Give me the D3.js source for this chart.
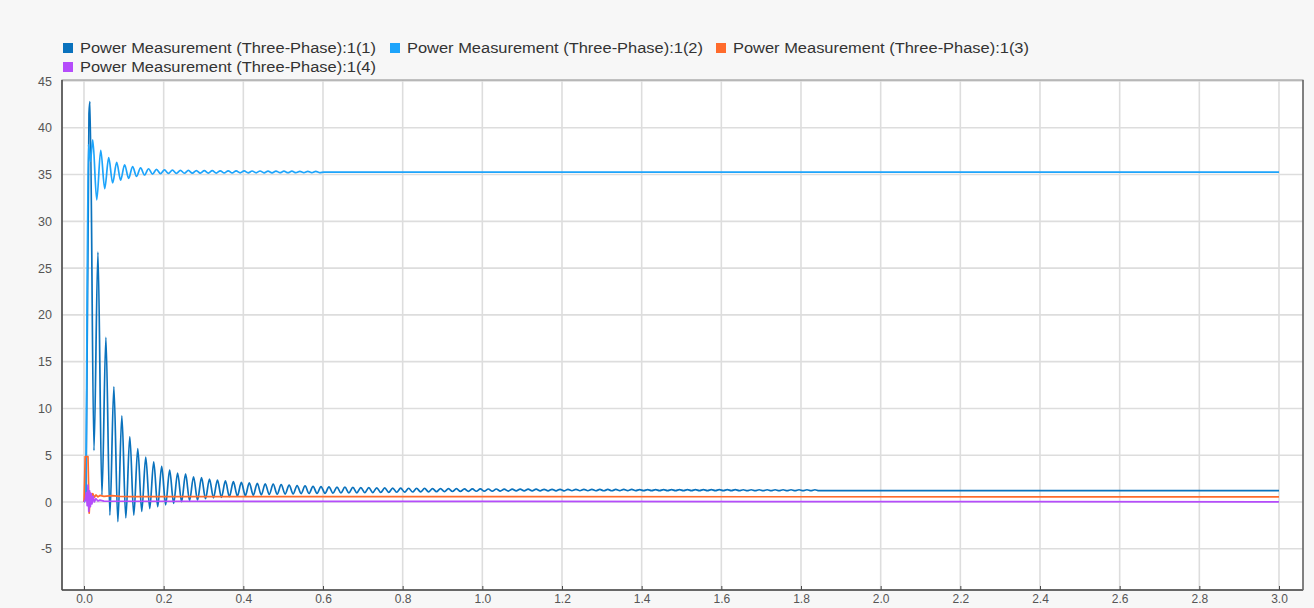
<!DOCTYPE html>
<html>
<head>
<meta charset="utf-8">
<script src="https://cdn.jsdelivr.net/npm/d3@7/dist/d3.min.js"></script>
<style>
  html, body { margin: 0; padding: 0; background: #f7f7f7; }
  svg { display: block; }
  text { font-family: "Liberation Sans", Arial, sans-serif; }
</style>
</head>
<body>
<svg id="chart" width="1314" height="608"></svg>
<script>
// ---- Data: Power Measurement (Three-Phase) outputs, time in seconds ----
const seriesNames = [
  "Power Measurement (Three-Phase):1(1)",
  "Power Measurement (Three-Phase):1(2)",
  "Power Measurement (Three-Phase):1(3)",
  "Power Measurement (Three-Phase):1(4)"
];
const seriesColors = ["#0a72bd", "#1da4fb", "#ff6b2c", "#b54cfb"];

const xTicks = [0, 0.2, 0.4, 0.6, 0.8, 1.0, 1.2, 1.4, 1.6, 1.8, 2.0, 2.2, 2.4, 2.6, 2.8, 3.0];
const yTicks = [-5, 0, 5, 10, 15, 20, 25, 30, 35, 40, 45];

const ripplePeriod = 0.02;   // 50 Hz ripple, one peak and one trough per period
const endTime = 3.0;

// Series 1(1): start-up samples, then ripple extrema, then settled value
const s1StartT = [0, 0.005, 0.0125];
const s1StartV = [0, 0.8, 41.5];
const s1PeakT0 = 0.015, s1TroughT0 = 0.025;
const s1Peaks = [
  42.8, 26.7, 17.6, 12.3, 9.2, 7.0, 5.7, 4.8, 4.3, 3.8,
  3.4, 3.1, 3.0, 2.7, 2.6, 2.45, 2.35, 2.25, 2.17, 2.1,
  2.05, 2.0, 1.95, 1.9, 1.85, 1.8, 1.76, 1.72, 1.68, 1.65,
  1.62, 1.6, 1.58, 1.56, 1.54, 1.53, 1.52, 1.5, 1.49, 1.48,
  1.47, 1.46, 1.45, 1.44, 1.43, 1.42, 1.42, 1.41, 1.4, 1.4,
  1.39, 1.39, 1.38, 1.38, 1.37, 1.37, 1.37, 1.36, 1.36, 1.36,
  1.35, 1.35, 1.35, 1.35, 1.34, 1.34, 1.34, 1.34, 1.34, 1.33,
  1.33, 1.33, 1.33, 1.33, 1.33, 1.32, 1.32, 1.32, 1.32, 1.32,
  1.32, 1.32, 1.31, 1.31, 1.31, 1.31, 1.31, 1.31, 1.31, 1.31, 1.31, 1.31
];
const s1Troughs = [
  5.5, 0.75, -1.4, -2.1, -1.7, -1.4, -1.0, -0.7, -0.5, -0.3,
  -0.15, 0.03, 0.15, 0.2, 0.35, 0.45, 0.5, 0.57, 0.63, 0.68,
  0.72, 0.76, 0.8, 0.83, 0.85, 0.87, 0.89, 0.91, 0.92, 0.93,
  0.95, 0.96, 0.97, 0.98, 0.99, 1.0, 1.02, 1.03, 1.04, 1.06,
  1.07, 1.08, 1.09, 1.1, 1.11, 1.12, 1.13, 1.14, 1.15, 1.16,
  1.16, 1.17, 1.17, 1.18, 1.18, 1.18, 1.19, 1.19, 1.19, 1.19,
  1.2, 1.2, 1.2, 1.2, 1.2, 1.2, 1.21, 1.21, 1.21, 1.21,
  1.21, 1.21, 1.21, 1.21, 1.21, 1.21, 1.21, 1.21, 1.21, 1.21,
  1.21, 1.21, 1.21, 1.21, 1.21, 1.21, 1.21, 1.21, 1.21, 1.21, 1.21, 1.21
];
const s1Final = 1.21;

// Series 1(2)
const s2StartT = [0, 0.004, 0.011, 0.016];
const s2StartV = [0, 0.3, 38.2, 36.4];
const s2PeakT0 = 0.022, s2TroughT0 = 0.032;
const s2Peaks = [
  38.7, 37.6, 36.8, 36.3, 36.05, 35.85, 35.72, 35.62, 35.55, 35.5,
  35.47, 35.45, 35.44, 35.43, 35.42, 35.41, 35.4, 35.4, 35.39, 35.39,
  35.38, 35.38, 35.37, 35.37, 35.36, 35.36, 35.35, 35.35, 35.34
];
const s2Troughs = [
  32.3, 33.5, 34.1, 34.4, 34.6, 34.8, 34.95, 35.05, 35.1, 35.12,
  35.13, 35.14, 35.15, 35.15, 35.16, 35.16, 35.17, 35.17, 35.18, 35.18,
  35.19, 35.19, 35.19, 35.2, 35.2, 35.2, 35.2, 35.2, 35.2
];
const s2Final = 35.25;

// Series 1(3)
const s3T = [0, 0.003, 0.010, 0.013, 0.016, 0.019, 0.022, 0.026, 0.030, 0.035, 0.040, 0.050, 0.070, 0.090, 0.120, endTime];
const s3V = [0, 4.85, 4.85, -1.2, 0.95, 0.3, 0.9, 0.5, 0.75, 0.55, 0.7, 0.6, 0.68, 0.6, 0.58, 0.55];

// Series 1(4)
const s4T = [0, 0.003, 0.006, 0.008, 0.010, 0.012, 0.014, 0.016, 0.018, 0.020, 0.023, 0.026, 0.030, 0.035, 0.040, 0.050, 0.080, endTime];
const s4V = [0, 0.2, 1.0, -0.4, 1.8, -1.0, 1.2, -0.5, 0.9, -0.2, 0.6, 0.0, 0.35, 0.1, 0.2, 0.1, 0.08, 0.02];

// ---- Build point lists ----
function zipPts(ts, vs) { return ts.map((t, i) => [t, vs[i]]); }
function rippleSeries(startT, startV, peakT0, troughT0, peaks, troughs, finalV) {
  const pts = zipPts(startT, startV);
  for (let k = 0; k < peaks.length; k++) {
    pts.push([peakT0 + k * ripplePeriod, peaks[k]]);
    if (k < troughs.length) pts.push([troughT0 + k * ripplePeriod, troughs[k]]);
  }
  const lastT = pts[pts.length - 1][0];
  pts.push([lastT + ripplePeriod / 2, finalV]);
  pts.push([endTime, finalV]);
  return pts;
}
const seriesData = [
  rippleSeries(s1StartT, s1StartV, s1PeakT0, s1TroughT0, s1Peaks, s1Troughs, s1Final),
  rippleSeries(s2StartT, s2StartV, s2PeakT0, s2TroughT0, s2Peaks, s2Troughs, s2Final),
  zipPts(s3T, s3V),
  zipPts(s4T, s4V)
];
const seriesCurves = [d3.curveMonotoneX, d3.curveMonotoneX, d3.curveLinear, d3.curveLinear];

// ---- Layout ----
const svg = d3.select("#chart");
const plot = { left: 62, right: 1303, top: 80, bottom: 590 };

const x = d3.scaleLinear().domain([0, 3]).range([84, 1279]);
const y = d3.scaleLinear().domain([0, 45]).range([502, 81]);

// plot background
svg.append("rect")
  .attr("x", plot.left).attr("y", plot.top)
  .attr("width", plot.right - plot.left).attr("height", plot.bottom - plot.top)
  .attr("fill", "#ffffff");

// grid
const grid = svg.append("g").attr("stroke", "#dddddd").attr("stroke-width", 1.6);
grid.selectAll("line.v").data(xTicks).join("line")
  .attr("x1", d => x(d)).attr("x2", d => x(d))
  .attr("y1", plot.top).attr("y2", plot.bottom);
grid.selectAll("line.h").data(yTicks).join("line")
  .attr("x1", plot.left).attr("x2", plot.right)
  .attr("y1", d => y(d)).attr("y2", d => y(d));

// series lines
svg.append("clipPath").attr("id", "plotClip")
  .append("rect").attr("x", plot.left).attr("y", plot.top)
  .attr("width", plot.right - plot.left).attr("height", plot.bottom - plot.top);

svg.append("g").attr("clip-path", "url(#plotClip)")
  .selectAll("path").data(seriesData).join("path")
  .attr("d", (d, i) => d3.line().curve(seriesCurves[i]).x(p => x(p[0])).y(p => y(p[1]))(d))
  .attr("fill", "none")
  .attr("stroke", (d, i) => seriesColors[i])
  .attr("stroke-width", 1.7)
  .attr("stroke-linejoin", "round");

// frame
svg.append("rect")
  .attr("x", plot.left).attr("y", plot.top)
  .attr("width", plot.right - plot.left).attr("height", plot.bottom - plot.top)
  .attr("fill", "none").attr("stroke", "#8a8a8a").attr("stroke-width", 1);
svg.append("line").attr("x1", plot.left).attr("x2", plot.left)
  .attr("y1", plot.top).attr("y2", plot.bottom)
  .attr("stroke", "#4a4a4a").attr("stroke-width", 1.5);
svg.append("line").attr("x1", plot.left).attr("x2", plot.right)
  .attr("y1", plot.bottom).attr("y2", plot.bottom)
  .attr("stroke", "#4a4a4a").attr("stroke-width", 1.5);
svg.append("line").attr("x1", plot.right).attr("x2", plot.right)
  .attr("y1", plot.top).attr("y2", plot.bottom)
  .attr("stroke", "#6a6a6a").attr("stroke-width", 1.5);

// axes
const xAxis = d3.axisBottom(x).tickValues(xTicks).tickFormat(d3.format(".1f"))
  .tickSizeInner(-4).tickSizeOuter(0).tickPadding(4);
const gx = svg.append("g").attr("transform", `translate(0,${plot.bottom})`).call(xAxis);
gx.select(".domain").remove();
gx.selectAll(".tick line").attr("stroke", "#4a4a4a");
gx.selectAll(".tick text").attr("fill", "#555").attr("font-size", 12)
  .attr("font-family", "'Liberation Sans', Arial, sans-serif");

const yAxis = d3.axisLeft(y).tickValues(yTicks).tickFormat(d => String(d))
  .tickSizeInner(0).tickSizeOuter(0).tickPadding(10);
const gy = svg.append("g").attr("transform", `translate(${plot.left},0)`).call(yAxis);
gy.select(".domain").remove();
gy.selectAll(".tick text").attr("fill", "#555").attr("font-size", 12.5)
  .attr("font-family", "'Liberation Sans', Arial, sans-serif");

// legend
const legendPos = [[63, 48], [390, 48], [716, 48], [63, 67]];
const legend = svg.append("g");
seriesNames.forEach((name, i) => {
  const [lx, ly] = legendPos[i];
  legend.append("rect").attr("x", lx).attr("y", ly - 5).attr("width", 10).attr("height", 10)
    .attr("fill", seriesColors[i]);
  legend.append("text").attr("x", lx + 17).attr("y", ly + 5)
    .attr("font-size", 14).attr("fill", "#333")
    .attr("textLength", 296).attr("lengthAdjust", "spacingAndGlyphs")
    .text(name);
});
</script>
</body>
</html>
